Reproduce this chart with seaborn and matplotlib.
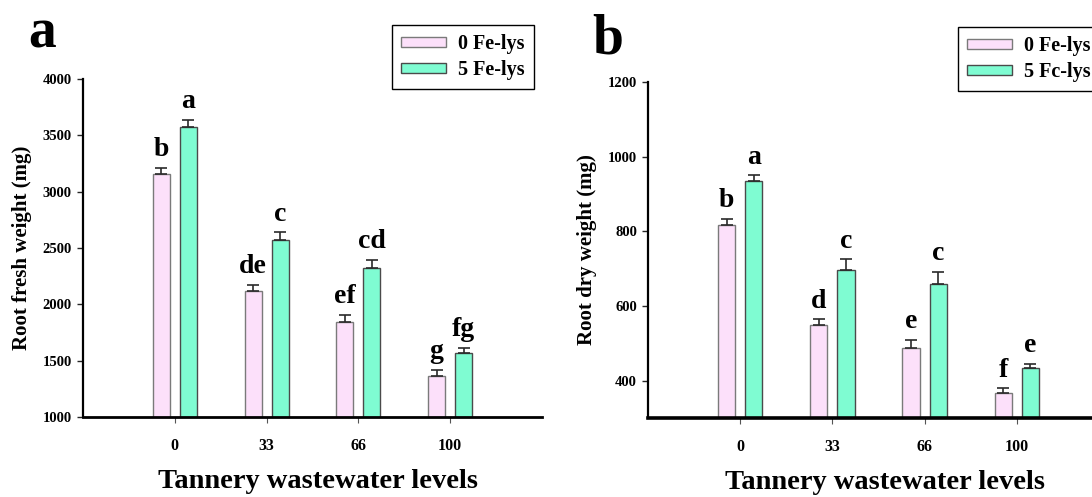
import numpy as np
import pandas as pd
import matplotlib
matplotlib.use("Agg")
import matplotlib.pyplot as plt
from matplotlib.container import BarContainer
from matplotlib.patches import Patch
import seaborn as sns

# ---------------- data ----------------
levels = ["0", "33", "66", "100"]
series_a = ["0 Fe-lys", "5 Fe-lys"]
series_b = ["0 Fe-lys", "5 Fc-lys"]

fresh_0 = [3158, 2117, 1842, 1364]
fresh_5 = [3572, 2573, 2321, 1567]
fresh_err_0 = [53, 59, 62, 53]
fresh_err_5 = [65, 65, 74, 45]
fresh_letters_0 = ["b", "de", "ef", "g"]
fresh_letters_5 = ["a", "c", "cd", "fg"]

dry_0 = [816, 548, 488, 366]
dry_5 = [934, 697, 660, 434]
dry_err_0 = [18, 16, 22, 13]
dry_err_5 = [16, 28, 32, 11]
dry_letters_0 = ["b", "d", "e", "f"]
dry_letters_5 = ["a", "c", "c", "e"]

fresh_ticks = [1000, 1500, 2000, 2500, 3000, 3500, 4000]
dry_ticks = [400, 600, 800, 1000, 1200]

# ---------------- style ----------------
sns.set_style("ticks")
plt.rcParams["font.family"] = ["Liberation Serif", "DejaVu Serif"]
plt.rcParams["font.weight"] = "bold"
plt.rcParams["axes.labelweight"] = "bold"
plt.rcParams["text.color"] = "black"
plt.rcParams["axes.labelcolor"] = "black"
plt.rcParams["xtick.labelcolor"] = "black"
plt.rcParams["ytick.labelcolor"] = "black"
plt.rcParams["axes.edgecolor"] = "black"

fill_colors = ["#FCE0FA", "#7FFCD2"]
edge_colors = ["#7A7A7A", "#4A4A4A"]

fig = plt.figure(figsize=(10.92, 4.97), dpi=100)


def draw_panel(ax, v0, v5, e0, e5, l0, l5, names, ylim, yticks, ylabel,
               leg_anchor, bottom_lw):
    df = pd.DataFrame({
        "level": levels * 2,
        "value": list(v0) + list(v5),
        "series": [names[0]] * len(levels) + [names[1]] * len(levels),
    })
    sns.barplot(data=df, x="level", y="value", hue="series", order=levels,
                hue_order=names, palette=fill_colors, saturation=1,
                errorbar=None, width=0.59, gap=0.37, linewidth=1.0, ax=ax,
                legend=False)
    errs = [e0, e5]
    lets = [l0, l5]
    bar_conts = [c for c in ax.containers if isinstance(c, BarContainer)]
    for i, cont in enumerate(bar_conts):
        xs, ys = [], []
        for p in cont.patches:
            p.set_edgecolor(edge_colors[i])
            p.set_linewidth(1.0)
            xs.append(p.get_x() + p.get_width() / 2)
            ys.append(p.get_height())
        xs = np.array(xs)
        ys = np.array(ys)
        err = np.array(errs[i])
        ax.errorbar(xs, ys, yerr=[np.zeros_like(err), err], fmt="none",
                    ecolor="#2A2A2A", elinewidth=1.2, capsize=4.3,
                    capthick=1.2, zorder=3)
        for x, y, e, t in zip(xs, ys, err, lets[i]):
            ax.annotate(t, (x, y + e), xytext=(0, 8.5),
                        textcoords="offset points", ha="center",
                        va="baseline", fontsize=20, fontweight="bold")
    ax.set_xlim(-1, 4)
    ax.set_ylim(*ylim)
    ax.set_yticks(yticks)
    ax.set_yticklabels([str(t) for t in yticks], fontsize=10.5,
                       fontweight="bold")
    ax.set_xticks(range(len(levels)))
    ax.set_xticklabels(levels, fontsize=11.5, fontweight="bold")
    ax.tick_params(axis="y", direction="out", length=4, width=1.0, pad=4)
    ax.tick_params(axis="x", direction="out", length=4, width=0.8,
                   color="#555555", pad=11)
    ax.set_xlabel("Tannery wastewater levels", fontsize=20.5,
                  fontweight="bold")
    ax.xaxis.set_label_coords(0.513, -0.155)
    ax.xaxis.label.set_va("top")
    ax.set_ylabel(ylabel, fontsize=15, fontweight="bold", labelpad=8)
    sns.despine(ax=ax)
    ax.spines["left"].set_linewidth(1.6)
    ax.spines["bottom"].set_linewidth(bottom_lw)
    handles = [Patch(facecolor=fill_colors[k], edgecolor=edge_colors[k],
                     linewidth=1.0) for k in range(2)]
    leg = ax.legend(handles, names, loc="upper left",
                    bbox_to_anchor=leg_anchor,
                    bbox_transform=fig.transFigure, frameon=True,
                    fancybox=False, framealpha=1, edgecolor="black",
                    borderaxespad=0, prop={"size": 14.5, "weight": "bold"},
                    handlelength=2.25, handleheight=0.38, handletextpad=0.6,
                    labelspacing=0.3, borderpad=0.45)
    leg.get_frame().set_linewidth(1.0)


ax_a = fig.add_axes([0.0760, 0.1610, 0.4203, 0.6800])
draw_panel(ax_a, fresh_0, fresh_5, fresh_err_0, fresh_err_5,
           fresh_letters_0, fresh_letters_5, series_a, (1000, 4000),
           fresh_ticks, "Root fresh weight (mg)", (0.359, 0.950), 2.0)

ax_b = fig.add_axes([0.5934, 0.1590, 0.4222, 0.6760])
draw_panel(ax_b, dry_0, dry_5, dry_err_0, dry_err_5,
           dry_letters_0, dry_letters_5, series_b, (300, 1200),
           dry_ticks, "Root dry weight (mg)", (0.877, 0.946), 2.6)

fig.text(28 / 1092, 1 - 48 / 497, "a", fontsize=40, fontweight="bold",
         va="baseline", ha="left")
fig.text(592 / 1092, 1 - 53 / 497, "b", fontsize=40, fontweight="bold",
         va="baseline", ha="left")

fig.savefig("out.png", dpi=100)
